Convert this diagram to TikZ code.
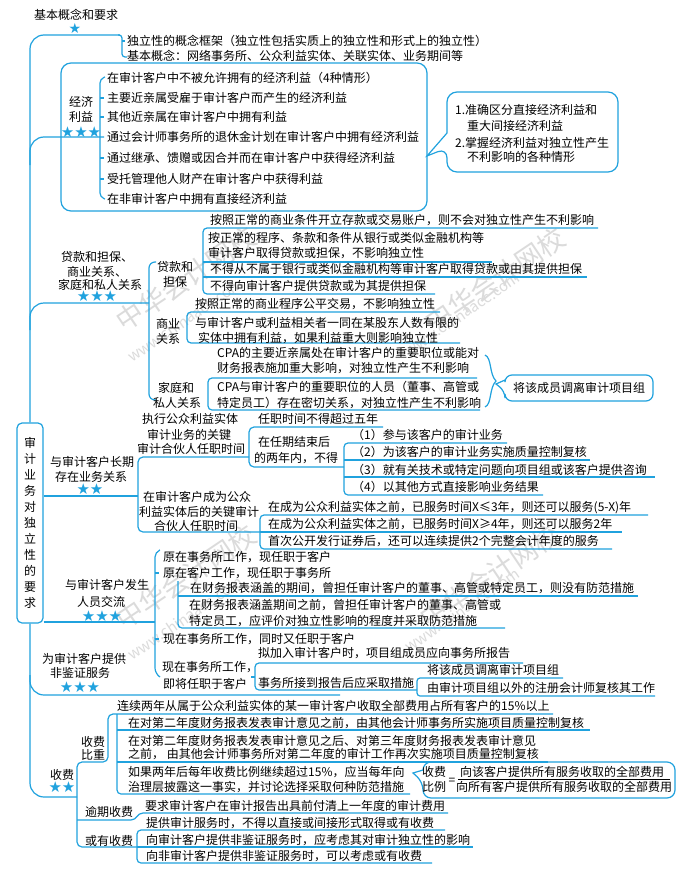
\documentclass[tikz,border=0pt]{standalone}
\usepackage{fontspec}
\setmainfont{Noto Sans CJK SC}
\newfontfamily\symf{DejaVu Sans}
\definecolor{lb}{RGB}{32,162,222}
\newcounter{tn}
\newcommand\TL[3]{\stepcounter{tn}\node[txt,anchor=base west] (t\arabic{tn}) at (#1,#2+4.5) {#3};}
\newcommand\TC[3]{\stepcounter{tn}\node[txt,anchor=base] (t\arabic{tn}) at (#1,#2+4.5) {#3};}
\begin{document}
\begin{tikzpicture}[x=1pt,y=-1pt,
  bl/.style={draw=lb,line width=1.2pt},
  txt/.style={inner sep=0pt,font=\fontsize{12}{15}\selectfont},
  stars/.style={inner sep=0pt,text=lb,font=\symf\fontsize{15}{15}\selectfont},
  wm/.style={inner sep=0pt,text=black!14,rotate=34,font=\fontsize{27}{27}\selectfont},
  wmu/.style={inner sep=0pt,text=black!14,rotate=34,font=\fontsize{15}{15}\selectfont}]
\useasboundingbox (0,0) rectangle (680,875);
\fill[white] (0,0) rectangle (680,875);

% ---------- watermarks
\node[wm] (w1) at (186,279) {中华会计网校};
\node[wmu] (w1u) at (185,320) {www.chinaacc.com};
\node[wm] (w2) at (495,280) {中华会计网校};
\node[wmu] (w2u) at (462,314) {www.chinaacc.com};
\node[wm] (w3) at (186,577) {中华会计网校};
\node[wmu] (w3u) at (185,618) {www.chinaacc.com};
\node[wm] (w4) at (490,576) {中华会计网校};
\node[wmu] (w4u) at (462,610) {www.chinaacc.com};

% ---------- root box and spine
\node[draw=lb,line width=1.2pt,rounded corners=5,minimum width=26pt,minimum height=200pt,inner sep=0pt,align=center,font=\fontsize{12}{16}\selectfont] (root) at (30,523) {审\\计\\业\\务\\对\\独\\立\\性\\的\\要\\求};
\draw[bl,rounded corners=14] (120,35) -- (30,35) -- (root.north);
\draw[bl,rounded corners=14] (root.south) -- (30,797) -- (77,797);

% ---------- basic concepts
\TC{76}{15}{基本概念和要求}
\node[stars,font=\symf\fontsize{14}{14}\selectfont] (s0) at (75,28) {★};
\draw[bl,rounded corners=3] (118,35) -- (122,35) -- (122,57) -- (127,57);
\draw[bl] (122,41) -- (125,41);
\TL{127}{41}{独立性的概念框架（独立性包括实质上的独立性和形式上的独立性）}
\TL{127}{56}{基本概念：网络事务所、公众利益实体、关联实体、业务期间等}

% ---------- economic interests
\draw[bl,rounded corners=10] (61,63) rectangle (427,211);
\TC{81}{102}{经济}
\TC{81}{117}{利益}
\node[stars] (s1) at (81,132) {★★★};
\draw[bl,rounded corners=14] (104,137) -- (30,137) -- (30,165);
\draw[bl,rounded corners=4] (105,77) -- (100,79) -- (100,197) -- (105,199);
\foreach \yy in {98,117,158,179} \draw[bl] (100,\yy) -- (104,\yy);
\TL{107}{78}{在审计客户中不被允许拥有的经济利益（4种情形）}
\TL{107}{98}{主要近亲属受雇于审计客户而产生的经济利益}
\TL{107}{117}{其他近亲属在审计客户中拥有利益}
\TL{107}{137}{通过会计师事务所的退休金计划在审计客户中拥有经济利益}
\TL{107}{158}{通过继承、馈赠或因合并而在审计客户中获得经济利益}
\TL{107}{179}{受托管理他人财产在审计客户中获得利益}
\TL{107}{199}{在非审计客户中拥有直接经济利益}
\draw[bl] (447,148) [sharp corners]-- (427,156) -- (447,133) [rounded corners=10]-- (447,92) -- (618,92) -- (618,172) -- (447,172) -- cycle;
\TL{455}{110}{1.准确区分直接经济利益和}
\TL{467}{126}{重大间接经济利益}
\TL{455}{143}{2.掌握经济利益对独立性产生}
\TL{467}{157}{不利影响的各种情形}

% ---------- loans / business / family
\TC{97}{257}{贷款和担保、}
\TC{97}{272}{商业关系、}
\TC{100}{285}{家庭和私人关系}
\node[stars] (s2) at (97,296) {★★★};
\draw[bl,rounded corners=14] (149,303) -- (30,303) -- (30,330);
\draw[bl,rounded corners=6] (156,262) -- (149,262) -- (149,400) -- (156,400);
\TC{175}{267}{贷款和}
\TC{175}{282}{担保}
\TC{168}{324}{商业}
\TC{168}{339}{关系}
\TC{176}{388}{家庭和}
\TC{177}{403}{私人关系}
\draw[bl,rounded corners=4] (598,228) -- (203,228) -- (203,294) -- (435,294);
\draw[bl] (203,262) -- (492,262);
\draw[bl] (203,277) -- (587,277);
\TL{210}{220}{按照正常的商业条件开立存款或交易账户，则不会对独立性产生不利影响}
\TL{208}{238}{按正常的程序、条款和条件从银行或类似金融机构等}
\TL{208}{253}{审计客户取得贷款或担保，不影响独立性}
\TL{210}{269}{不得从不属于银行或类似金融机构等审计客户取得贷款或由其提供担保}
\TL{210}{286}{不得向审计客户提供贷款或为其提供担保}
\draw[bl,rounded corners=4] (440,312) -- (187,312) -- (187,343) -- (460,343);
\TL{195}{304}{按照正常的商业程序公平交易，不影响独立性}
\TL{195}{323}{与审计客户或利益相关者一同在某股东人数有限的}
\TL{198}{338}{实体中拥有利益，如果利益重大则影响独立性}
\draw[bl,rounded corners=4] (477,378) -- (208,378) -- (208,410) -- (480,410);
\TL{217}{353}{CPA的主要近亲属处在审计客户的重要职位或能对}
\TL{217}{368}{财务报表施加重大影响，对独立性产生不利影响}
\TL{217}{387}{CPA与审计客户的重要职位的人员（董事、高管或}
\TL{217}{403}{特定员工）存在密切关系，对独立性产生不利影响}
\draw[bl] (485,355) .. controls (492,358) and (489,374) .. (496,381) .. controls (489,388) and (492,404) .. (485,407);
\draw[bl,fill=white] (505,391) [sharp corners]-- (496,384) -- (505,380) [rounded corners=7]-- (505,375) -- (653,375) -- (653,401) -- (505,401) -- cycle;
\TC{579}{388}{将该成员调离审计项目组}

% ---------- long association
\TC{92}{462}{与审计客户长期}
\TC{91}{477}{存在业务关系}
\node[stars] (s3) at (90,489) {★★};
\draw[bl] (root.east |- 0,496) -- (138,496);
\draw[bl,rounded corners=5] (249,457) -- (138,457) -- (138,532) -- (260,532);
\TC{190}{419}{执行公众利益实体}
\TC{189}{435}{审计业务的关键}
\TC{191}{449}{审计合伙人任职时间}
\draw[bl,rounded corners=5] (383,427) -- (249,427) -- (249,467) -- (344,467);
\TL{258}{419}{任职时间不得超过五年}
\TC{294}{442}{在任期结束后}
\TC{296}{458}{的两年内，不得}
\draw[bl,rounded corners=4] (507,443) -- (344,443) -- (344,495) -- (543,495);
\draw[bl] (344,460) -- (590,460);
\draw[bl] (344,477) -- (655,477);
\TL{352}{435}{（1）参与该客户的审计业务}
\TL{352}{452}{（2）为该客户的审计业务实施质量控制复核}
\TL{352}{470}{（3）就有关技术或特定问题向项目组或该客户提供咨询}
\TL{352}{487}{（4）以其他方式直接影响业务结果}
\TC{197}{497}{在审计客户成为公众}
\TC{199}{512}{利益实体后的关键审计}
\TC{196}{526}{合伙人任职时间}
\draw[bl,rounded corners=4] (648,515) -- (260,515) -- (260,549) -- (612,549);
\draw[bl] (260,532) -- (622,532);
\TL{268}{507}{在成为公众利益实体之前，已服务时间X≤3年，则还可以服务(5-X)年}
\TL{268}{524}{在成为公众利益实体之前，已服务时间X≥4年，则还可以服务2年}
\TL{268}{541}{首次公开发行证券后，还可以连续提供2个完整会计年度的服务}

% ---------- staff exchange
\TC{107}{585}{与审计客户发生}
\TC{101}{602}{人员交流}
\node[stars] (s4) at (102,616) {★★★};
\draw[bl] (root.east |- 0,622) -- (155,622);
\draw[bl,rounded corners=5] (160,550) -- (155,552) -- (155,673) -- (160,677);
\foreach \yy in {573,639} \draw[bl] (155,\yy) -- (159,\yy);
\TL{163}{557}{原在事务所工作，现任职于客户}
\TL{163}{573}{原在客户工作，现任职于事务所}
\draw[bl,rounded corners=4] (178,581) -- (178,628) -- (505,628);
\draw[bl] (178,596) -- (638,596);
\TL{190}{588}{在财务报表涵盖的期间，曾担任审计客户的董事、高管或特定员工，则没有防范措施}
\TL{189}{605}{在财务报表涵盖期间之前，曾担任审计客户的董事、高管或}
\TL{189}{621}{特定员工，应评价对独立性影响的程度并采取防范措施}
\TL{163}{639}{现在事务所工作，同时又任职于客户}
\TL{162}{667}{现在事务所工作，}
\TL{163}{684}{即将任职于客户}
\draw[bl,rounded corners=4] (523,663) -- (255,663) -- (255,690) -- (417,690);
\draw[bl] (251,677) -- (255,677);
\TL{258}{653}{拟加入审计客户时，项目组成员应向事务所报告}
\TL{258}{683}{事务所接到报告后应采取措施}
\draw[bl,rounded corners=3] (563,678) -- (417,678) -- (417,696) -- (655,696);
\TL{427}{670}{将该成员调离审计项目组}
\TL{427}{688}{由审计项目组以外的注册会计师复核其工作}

% ---------- non-assurance services
\TC{84}{659}{为审计客户提供}
\TC{80}{673}{非鉴证服务}
\node[stars] (s5) at (80,687) {★★★};
\draw[bl,rounded corners=14] (30,675) -- (30,695) -- (340,695);

% ---------- fees
\TC{62}{775}{收费}
\node[stars] (s6) at (62,787) {★★};
\draw[bl,rounded corners=5] (553,714) -- (108,714) -- (108,762) -- (77,762) -- (77,847) -- (137,847);
\draw[bl,rounded corners=4] (117,714) -- (117,794) -- (410,794);
\draw[bl] (117,730) -- (590,730);
\draw[bl] (117,762) -- (548,762);
\TL{117}{706}{连续两年从属于公众利益实体的某一审计客户收取全部费用占所有客户的15\%以上}
\TC{93}{742}{收费}
\TC{93}{755}{比重}
\TL{128}{723}{在对第二年度财务报表发表审计意见之前，由其他会计师事务所实施项目质量控制复核}
\TL{128}{741}{在对第二年度财务报表发表审计意见之后、对第三年度财务报表发表审计意见}
\TL{128}{754}{之前， 由其他会计师事务所对第二年度的审计工作再次实施项目质量控制复核}
\TL{128}{772}{如果两年后每年收费比例继续超过15\%，应当每年向}
\TL{128}{787}{治理层披露这一事实，并讨论选择采取何种防范措施}
\TC{109}{812}{逾期收费}
\TC{109}{841}{或有收费}
\draw[bl] (77,820) -- (131,820) .. controls (137,820) and (137,813) .. (143,813) -- (448,813);
\draw[bl,rounded corners=4] (445,830) -- (137,830) -- (137,863) -- (432,863);
\draw[bl] (137,847) -- (473,847);
\TL{145}{806}{要求审计客户在审计报告出具前付清上一年度的审计费用}
\TL{146}{823}{提供审计服务时，不得以直接或间接形式取得或有收费}
\TL{146}{840}{向审计客户提供非鉴证服务时，应考虑其对审计独立性的影响}
\TL{146}{856}{向非审计客户提供非鉴证服务时，可以考虑或有收费}
\draw[bl] (423,782) [sharp corners]-- (413,773) -- (423,770) [rounded corners=8]-- (423,762) -- (675,762) -- (675,798) -- (423,798) -- cycle;
\TC{434}{772}{收费}
\TC{434}{787}{比例}
\TC{452}{780}{=}
\TC{562}{772}{向该客户提供所有服务收取的全部费用}
\TC{564}{787}{向所有客户提供所有服务收取的全部费用}
\draw[line width=0.6pt] (458,779.5) -- (670,779.5);
\end{tikzpicture}
\end{document}
